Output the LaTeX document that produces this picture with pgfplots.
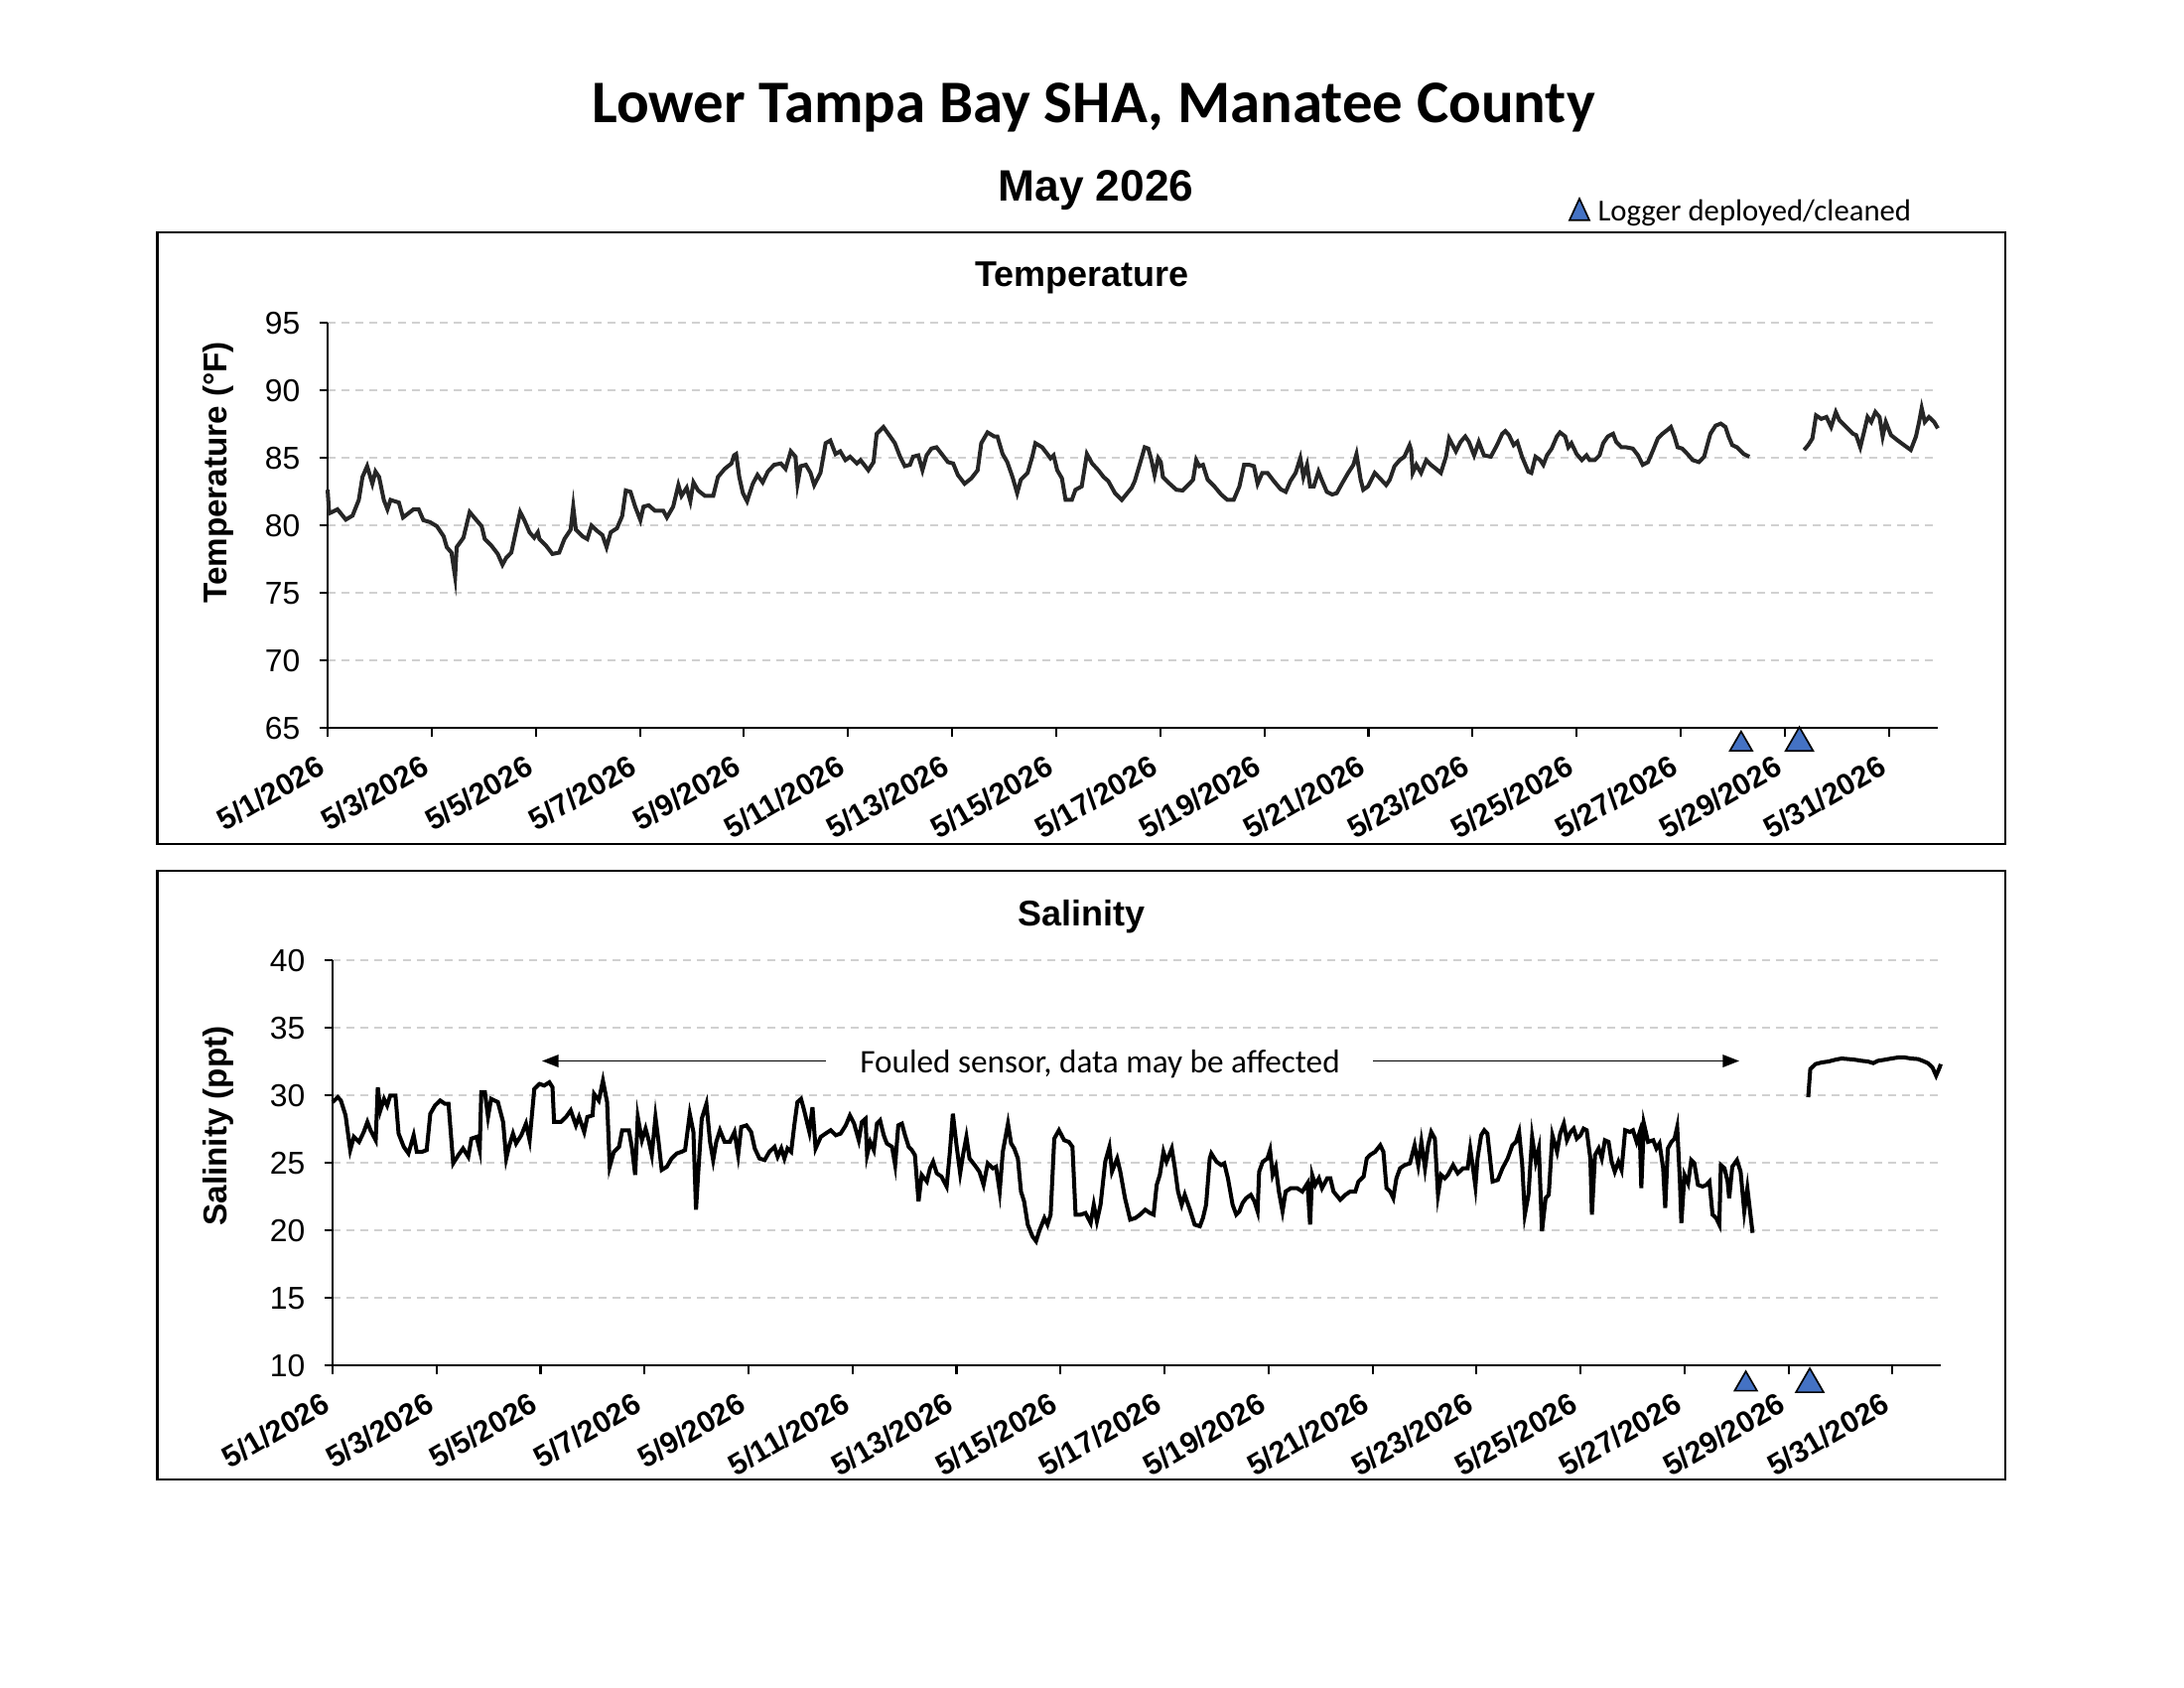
\documentclass[border=0pt]{standalone}
\usepackage{fontspec}
\setmainfont{Liberation Sans}
\newfontfamily\calibri{Carlito}
\usepackage{pgfplots}
\pgfplotsset{compat=1.18}
\usetikzlibrary{arrows.meta}
\definecolor{trib}{HTML}{4472C4}
\definecolor{tline}{HTML}{262626}
\pgfplotsset{
  myaxis/.style={
    scale only axis, anchor=south west, clip=false,
    axis x line*=bottom, axis y line*=left,
    axis line style={line width=0.75pt, black, -},
    tick style={line width=0.75pt, black},
    tick align=outside, major tick length=3pt,
    enlargelimits=false,
    ymajorgrids,
    major grid style={dash pattern=on 2.9pt off 2.2pt, line width=0.7pt, color=black!18},
    /pgf/number format/assume math mode=true,
    yticklabel style={font=\fontsize{11.5}{13}\selectfont, xshift=-3.5pt},
    xtick={0,2,...,30},
    xticklabels={5/1/2026,5/3/2026,5/5/2026,5/7/2026,5/9/2026,5/11/2026,5/13/2026,5/15/2026,5/17/2026,5/19/2026,5/21/2026,5/23/2026,5/25/2026,5/27/2026,5/29/2026,5/31/2026},
    xticklabel style={font=\bfseries\fontsize{11}{13}\selectfont, xshift=-3.9pt, yshift=-4.7pt, rotate=30, anchor=north east, inner sep=1pt},
    unbounded coords=jump,
  },
  tri/.style={only marks, mark=triangle*, mark options={fill=trib, draw=black, line width=0.6pt}},
}
\begin{document}
\begin{tikzpicture}
\path[use as bounding box] (0,0) rectangle (11in,-8.5in);
\draw[line width=0.8pt] (0.7925in,-1.1715in) rectangle (10.1in,-4.25in);
\draw[line width=0.8pt] (0.7925in,-4.385in) rectangle (10.1in,-7.45in);
\node[anchor=base, inner sep=0pt, font=\calibri\bfseries\fontsize{22}{26}\selectfont] at (5.507in,-0.6175in) {Lower Tampa Bay SHA, Manatee County};
\node[anchor=base, inner sep=0pt, font=\bfseries\fontsize{16}{19}\selectfont] at (5.52in,-1.01in) {May 2026};
\draw[fill=trib, line width=0.6pt] (7.905in,-1.1085in) -- (8.005in,-1.1085in) -- (7.955in,-1.0in) -- cycle;
\node[anchor=base west, inner sep=0pt, font=\calibri\fontsize{11.1}{13}\selectfont] at (8.045in,-1.11in) {Logger deployed/cleaned};
\node[anchor=base, inner sep=0pt, font=\bfseries\fontsize{13}{15}\selectfont] at (5.45in,-1.44in) {Temperature};
\node[anchor=base, inner sep=0pt, font=\bfseries\fontsize{13}{15}\selectfont] at (5.445in,-4.66in) {Salinity};
\node[rotate=90, inner sep=0pt, font=\bfseries\fontsize{12}{14}\selectfont] at (1.10in,-2.38in) {Temperature (°F)};
\node[rotate=90, inner sep=0pt, font=\bfseries\fontsize{12}{14}\selectfont] at (1.10in,-5.67in) {Salinity (ppt)};
\node[inner sep=0pt, font=\calibri\fontsize{12}{14}\selectfont] at (5.54in,-5.3575in) {Fouled sensor, data may be affected};
\draw[line width=0.65pt, -{Triangle[length=6pt,width=4.5pt]}] (4.16in,-5.3425in) -- (2.73in,-5.3425in);
\draw[line width=0.65pt, -{Triangle[length=6pt,width=4.5pt]}] (6.915in,-5.3425in) -- (8.76in,-5.3425in);

\begin{axis}[myaxis, at={(1.65in,-3.6665in)}, width=8.11in, height=2.04in,
  xmin=0, xmax=30.94, ymin=65, ymax=95, ytick={65,70,...,95}]
\addplot[line width=1.45pt, color=tline, mark=none] coordinates {
(0,82.65)(0.03,80.9)(0.19,81.2)(0.35,80.44)(0.48,80.74)(0.60,81.9)(0.67,83.6)(0.76,84.4)(0.86,83.1)(0.92,84.0)(0.99,83.6)(1.08,81.9)(1.15,81.2)(1.21,81.9)(1.37,81.7)(1.45,80.6)(1.65,81.2)(1.75,81.2)(1.84,80.4)(1.97,80.25)(2.10,79.95)(2.23,79.2)(2.29,78.4)(2.38,78.0)(2.45,76.2)(2.48,78.4)(2.61,79.1)(2.73,81.0)(2.86,80.4)(2.96,79.95)(3.02,79.0)(3.15,78.5)(3.27,77.9)(3.36,77.1)(3.43,77.6)(3.53,78.0)(3.62,79.6)(3.70,81.0)(3.78,80.4)(3.88,79.5)(3.97,79.1)(4.04,79.5)(4.07,79.0)(4.20,78.5)(4.32,77.9)(4.45,78.0)(4.55,79.0)(4.67,79.7)(4.72,81.4)(4.77,79.7)(4.90,79.2)(4.99,79.0)(5.07,80.0)(5.18,79.6)(5.28,79.3)(5.36,78.4)(5.44,79.5)(5.56,79.8)(5.66,80.7)(5.73,82.6)(5.82,82.5)(5.91,81.4)(6.01,80.4)(6.07,81.4)(6.17,81.5)(6.29,81.1)(6.45,81.1)(6.52,80.6)(6.64,81.4)(6.74,83.0)(6.80,82.2)(6.90,82.8)(6.97,81.8)(7.03,83.2)(7.12,82.6)(7.25,82.2)(7.41,82.2)(7.50,83.6)(7.63,84.2)(7.76,84.6)(7.81,85.2)
(7.85,85.3)(7.91,83.6)(7.98,82.4)(8.06,81.8)(8.17,83.1)(8.26,83.75)(8.36,83.2)(8.46,84.0)(8.58,84.5)(8.71,84.6)(8.80,84.2)(8.90,85.5)(8.99,85.1)(9.03,83.1)(9.09,84.4)(9.19,84.5)(9.28,83.9)(9.35,83.0)(9.47,83.9)(9.57,86.1)(9.66,86.3)(9.76,85.3)(9.85,85.5)(9.95,84.85)(10.04,85.1)(10.17,84.6)(10.24,84.85)(10.39,84.1)(10.49,84.7)(10.55,86.8)(10.68,87.3)(10.81,86.6)(10.90,86.1)(11.00,85.1)(11.09,84.4)(11.19,84.5)(11.25,85.1)(11.35,85.2)(11.43,84.1)(11.51,85.2)(11.60,85.7)(11.70,85.8)(11.82,85.2)(11.92,84.7)(12.02,84.6)(12.11,83.75)(12.24,83.1)(12.37,83.5)(12.49,84.1)(12.56,86.1)(12.68,86.9)(12.81,86.6)(12.87,86.6)(12.97,85.3)(13.06,84.7)(13.16,83.6)(13.25,82.4)(13.32,83.4)(13.45,83.9)(13.54,85.1)(13.60,86.1)(13.73,85.8)(13.83,85.3)(13.89,84.98)(13.95,85.2)(14.02,84.1)(14.11,83.5)(14.18,81.9)(14.30,81.9)(14.37,82.65)(14.49,82.9)(14.59,85.3)(14.69,84.6)(14.81,84.1)(14.91,83.6)(15.00,83.3)(15.13,82.4)(15.26,81.9)(15.45,82.8)
(15.51,83.3)(15.61,84.6)(15.70,85.8)(15.77,85.7)(15.83,84.85)(15.89,83.75)(15.96,85.0)(16.01,84.7)(16.05,83.6)(16.18,83.1)(16.31,82.65)(16.43,82.6)(16.56,83.1)(16.63,83.4)(16.69,84.85)(16.75,84.4)(16.82,84.5)(16.91,83.4)(17.04,82.9)(17.17,82.3)(17.29,81.9)(17.41,81.9)(17.52,82.9)(17.61,84.5)(17.71,84.5)(17.80,84.4)(17.87,83.1)(17.96,83.9)(18.06,83.9)(18.18,83.3)(18.31,82.7)(18.41,82.5)(18.50,83.3)(18.60,83.9)(18.69,85.0)(18.75,83.6)(18.82,84.5)(18.88,82.9)(18.95,82.9)(19.04,84.0)(19.10,83.4)(19.20,82.5)(19.30,82.3)(19.39,82.4)(19.49,83.1)(19.61,83.9)(19.71,84.5)(19.77,85.3)(19.85,83.4)(19.90,82.65)(19.99,82.9)(20.12,83.9)(20.22,83.5)(20.34,83.0)(20.41,83.4)(20.50,84.4)(20.60,84.85)(20.69,85.1)(20.79,85.96)(20.82,85.6)(20.85,83.9)(20.92,84.5)(21.01,83.9)(21.11,84.85)(21.20,84.5)(21.30,84.2)(21.39,83.9)(21.49,85.1)(21.55,86.45)(21.68,85.5)(21.77,86.2)(21.86,86.6)(21.93,86.2)(22.03,85.2)(22.12,86.2)(22.22,85.2)(22.35,85.1)(22.47,85.96)(22.57,86.8)(22.63,87.0)(22.70,86.7)(22.79,85.96)(22.86,86.2)(22.95,85.1)(23.07,84.0)
(23.13,83.9)(23.21,85.1)(23.30,84.85)(23.36,84.5)(23.43,85.2)(23.52,85.7)(23.62,86.6)(23.68,86.9)(23.78,86.6)(23.84,85.8)(23.90,86.1)(24.00,85.3)(24.10,84.85)(24.19,85.2)(24.25,84.85)(24.35,84.85)(24.44,85.2)(24.51,86.1)(24.60,86.6)(24.70,86.8)(24.76,86.2)(24.86,85.8)(24.95,85.8)(25.08,85.7)(25.18,85.2)(25.27,84.5)(25.37,84.7)(25.46,85.5)(25.56,86.45)(25.65,86.8)(25.75,87.1)(25.81,87.3)(25.88,86.6)(25.94,85.8)(26.03,85.7)(26.13,85.3)(26.23,84.85)(26.35,84.7)(26.45,85.1)(26.51,85.96)(26.57,86.8)(26.67,87.4)(26.77,87.55)(26.86,87.3)(26.92,86.6)(26.99,85.96)(27.08,85.8)(27.21,85.3)(27.32,85.1)
(27.8,nan)
(28.37,85.6)(28.45,85.96)(28.53,86.45)(28.60,88.16)(28.70,87.9)(28.80,88.04)(28.89,87.3)(28.98,88.4)(29.05,87.8)(29.18,87.3)(29.31,86.8)(29.37,86.7)(29.45,85.8)(29.53,87.06)(29.59,88.04)(29.66,87.67)(29.74,88.41)(29.82,88.04)(29.88,86.6)(29.94,87.67)(30.04,86.7)(30.17,86.3)(30.29,85.96)(30.42,85.6)(30.52,86.6)(30.58,87.67)(30.63,88.7)(30.69,87.67)(30.77,88.04)(30.87,87.67)(30.94,87.2)
};
\addplot[tri, mark size=4.7pt] coordinates {(27.16,63.8)};
\addplot[tri, mark size=5.8pt] coordinates {(28.28,63.9)};
\end{axis}

\begin{axis}[myaxis, at={(1.675in,-6.8765in)}, width=8.10in, height=2.04in,
  xmin=0, xmax=30.93, ymin=10, ymax=40, ytick={10,15,...,40}]
\addplot[line width=1.45pt, color=black, mark=none] coordinates {
(0,29.51)(0.10,29.88)(0.16,29.63)(0.25,28.53)(0.34,25.96)(0.41,26.94)(0.51,26.57)(0.60,27.30)(0.67,28.04)(0.73,27.43)(0.83,26.69)(0.87,30.61)(0.92,28.90)(0.99,29.75)(1.05,29.26)(1.11,30.0)(1.21,30.0)(1.27,27.18)(1.37,26.20)(1.46,25.71)(1.56,27.06)(1.62,25.83)(1.72,25.83)(1.81,25.96)(1.88,28.65)(1.97,29.26)(2.07,29.63)(2.16,29.39)(2.23,29.39)(2.32,24.98)(2.42,25.59)(2.51,26.08)(2.61,25.47)(2.67,26.81)(2.77,26.94)(2.83,25.96)(2.86,30.25)(2.93,30.25)(2.99,28.41)(3.05,29.75)(3.18,29.51)(3.28,28.04)(3.34,25.34)(3.40,26.32)(3.47,27.18)(3.53,26.45)(3.63,27.06)(3.72,27.92)(3.79,26.69)(3.88,30.49)(3.98,30.86)(4.07,30.74)(4.17,30.98)(4.23,30.61)(4.26,28.04)(4.39,28.04)(4.49,28.41)(4.58,28.90)(4.68,27.79)(4.74,28.41)(4.84,27.30)(4.90,28.41)(5.00,28.53)(5.03,30.12)(5.12,29.63)(5.20,31.10)(5.28,29.51)(5.33,24.73)(5.41,25.83)(5.51,26.20)(5.57,27.43)(5.70,27.43)(5.76,26.08)(5.82,24.12)(5.87,28.41)(5.95,26.69)(6.02,27.55)(6.08,26.69)(6.14,25.59)(6.21,28.41)(6.27,26.57)(6.33,24.49)(6.43,24.73)(6.52,25.34)(6.62,25.71)(6.71,25.83)(6.78,25.96)(6.87,28.65)(6.94,27.30)(6.99,21.54)(7.03,24.12)(7.10,28.28)(7.19,29.39)(7.26,26.57)(7.32,25.22)(7.38,26.57)(7.45,27.43)(7.54,26.57)(7.64,26.57)(7.73,27.30)
(7.80,25.59)(7.86,27.67)(7.96,27.79)(8.05,27.30)(8.12,26.08)(8.21,25.34)(8.31,25.22)(8.40,25.83)(8.50,26.20)(8.56,25.47)(8.63,26.08)(8.69,25.34)(8.75,26.08)(8.82,25.83)(8.88,27.79)(8.94,29.51)(9.01,29.75)(9.07,28.90)(9.17,27.30)(9.23,29.14)(9.29,26.08)(9.39,26.94)(9.48,27.18)(9.58,27.43)(9.68,27.06)(9.77,27.18)(9.87,27.79)(9.95,28.53)(10.03,27.92)(10.12,26.69)(10.18,28.04)(10.25,28.28)(10.28,25.59)(10.34,26.57)(10.41,25.96)(10.47,27.92)(10.53,28.16)(10.60,27.06)(10.66,26.45)(10.76,26.20)(10.82,24.85)(10.88,27.79)(10.95,27.92)(11.01,27.06)(11.08,26.20)(11.14,25.96)(11.20,25.59)(11.27,22.16)(11.33,24.12)(11.43,23.63)(11.49,24.61)(11.55,25.10)(11.62,24.24)(11.71,24.0)(11.81,23.26)(11.87,25.71)(11.93,28.65)(12.00,26.32)(12.07,24.24)(12.13,25.71)(12.19,26.94)(12.25,25.34)(12.35,24.85)(12.44,24.36)(12.52,23.38)(12.60,24.98)(12.70,24.61)(12.76,24.73)(12.83,22.89)(12.89,25.83)(12.99,27.92)(13.05,26.45)(13.11,26.08)(13.18,25.34)(13.24,22.89)(13.30,22.16)(13.37,20.44)(13.46,19.58)(13.53,19.21)(13.59,19.95)(13.69,20.93)(13.75,20.44)(13.81,21.18)(13.88,26.81)(13.97,27.43)(14.07,26.69)(14.16,26.57)(14.23,26.20)(14.29,21.18)(14.39,21.18)(14.48,21.30)(14.58,20.56)(14.64,21.91)(14.70,20.69)(14.77,21.91)(14.86,25.10)(14.94,26.20)(14.99,24.36)(15.09,25.34)(15.15,24.36)(15.24,22.40)(15.34,20.81)
(15.44,20.93)(15.53,21.18)(15.63,21.54)(15.72,21.30)(15.79,21.18)(15.85,23.38)(15.91,24.12)(15.98,25.83)(16.04,25.10)(16.14,26.08)(16.20,24.61)(16.26,22.89)(16.33,21.91)(16.39,22.65)(16.49,21.54)(16.58,20.44)(16.68,20.32)(16.74,20.93)(16.80,21.91)(16.87,25.34)(16.90,25.71)(17.00,25.10)(17.09,24.85)(17.15,24.98)(17.22,23.87)(17.31,21.91)(17.38,21.18)(17.44,21.42)(17.50,22.03)(17.57,22.40)(17.66,22.65)(17.73,22.16)(17.79,21.42)(17.82,24.36)(17.89,25.10)(17.98,25.34)(18.03,25.96)(18.08,24.12)(18.14,24.73)(18.20,22.89)(18.27,21.42)(18.33,22.89)(18.43,23.14)(18.55,23.14)(18.65,22.89)(18.75,23.50)(18.80,20.44)(18.84,24.12)(18.90,23.38)(18.97,23.87)(19.03,23.14)(19.13,23.87)(19.19,23.87)(19.25,22.89)(19.38,22.28)(19.48,22.65)(19.57,22.89)(19.67,22.89)(19.73,23.63)(19.83,24.0)(19.89,25.34)(19.95,25.59)(20.05,25.83)(20.15,26.32)(20.21,25.83)(20.27,23.14)(20.34,22.89)(20.40,22.40)(20.46,23.87)(20.53,24.61)(20.62,24.85)(20.72,24.98)(20.81,26.32)(20.88,24.85)(20.94,26.57)(21.01,24.61)(21.07,26.32)(21.13,27.30)(21.20,26.81)(21.26,22.65)(21.32,24.12)(21.39,23.87)(21.45,24.12)(21.55,24.85)(21.64,24.24)(21.74,24.61)(21.83,24.61)(21.88,26.08)(21.93,24.73)(21.98,23.26)(22.02,25.34)(22.09,27.06)(22.15,27.43)(22.21,27.18)(22.31,23.63)(22.41,23.75)(22.50,24.61)(22.60,25.34)(22.69,26.32)(22.76,26.57)(22.82,27.30)(22.88,24.85)(22.93,21.18)(23.00,22.65)
(23.07,26.94)(23.14,25.10)(23.20,26.08)(23.26,19.95)(23.33,22.40)(23.39,22.65)(23.46,27.06)(23.55,25.83)(23.61,27.18)(23.68,27.92)(23.74,26.69)(23.81,27.30)(23.87,27.55)(23.93,26.81)(24.00,27.06)(24.06,27.55)(24.12,27.43)(24.19,25.34)(24.22,21.18)(24.28,25.59)(24.35,26.08)(24.41,25.34)(24.47,26.69)(24.54,26.57)(24.60,25.10)(24.66,24.36)(24.73,25.10)(24.79,24.49)(24.86,27.43)(24.95,27.30)(25.01,27.43)(25.08,26.57)(25.14,27.30)(25.17,23.14)(25.22,27.92)(25.30,26.57)(25.40,26.69)(25.46,26.08)(25.52,26.45)(25.59,24.61)(25.63,21.67)(25.68,26.08)(25.75,26.57)(25.81,26.81)(25.86,27.67)(25.91,23.87)(25.94,20.56)(26.00,24.12)(26.07,23.50)(26.13,25.22)(26.19,24.98)(26.26,23.38)(26.35,23.26)(26.42,23.38)(26.48,23.63)(26.54,21.18)(26.61,20.93)(26.67,20.44)(26.70,24.85)(26.77,24.61)(26.83,23.63)(26.86,22.40)(26.92,24.73)(27.01,25.22)(27.08,24.36)(27.15,21.42)(27.21,23.14)(27.31,19.83)
(27.8,nan)
(28.38,29.88)(28.42,31.96)(28.52,32.33)(28.64,32.45)(28.77,32.52)(28.90,32.65)(29.02,32.74)(29.15,32.70)(29.28,32.65)(29.41,32.57)(29.53,32.52)(29.63,32.40)(29.72,32.57)(29.85,32.65)(29.98,32.74)(30.11,32.82)(30.23,32.82)(30.36,32.74)(30.49,32.70)(30.58,32.57)(30.68,32.40)(30.77,32.08)(30.84,31.47)(30.90,32.01)(30.93,32.33)
};
\addplot[tri, mark size=4.7pt] coordinates {(27.18,8.62)};
\addplot[tri, mark size=5.8pt] coordinates {(28.41,8.62)};
\end{axis}
\end{tikzpicture}
\end{document}
